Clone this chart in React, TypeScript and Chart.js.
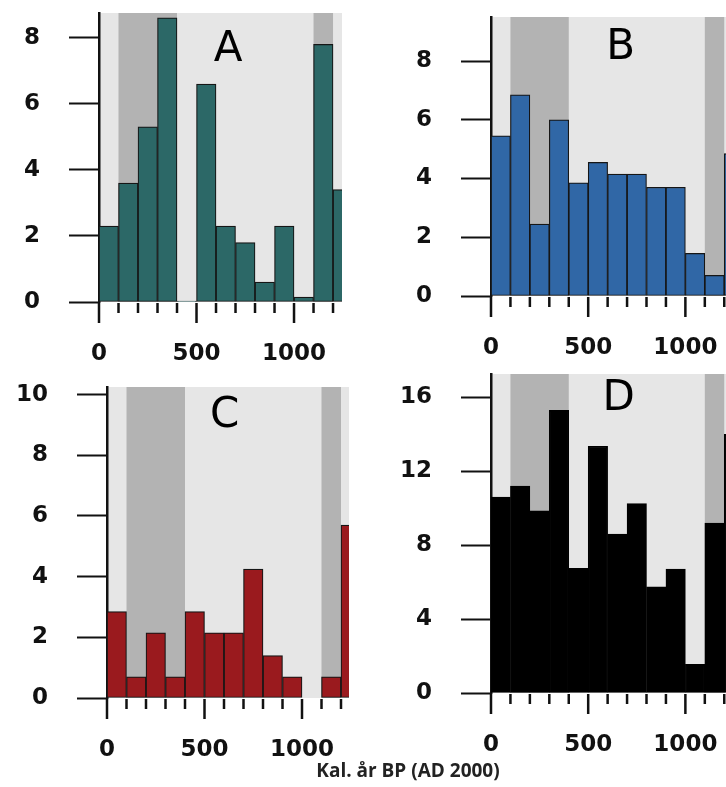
import React, { useEffect, useRef } from 'react';
import { Chart, registerables } from 'chart.js';

Chart.register(...registerables);

// ---------- data ----------
const binStarts = [0, 100, 200, 300, 400, 500, 600, 700, 800, 900, 1000, 1100, 1200];
const binWidth = 100;
const seriesA = [2.3, 3.6, 5.3, 8.6, 0.03, 6.6, 2.3, 1.8, 0.6, 2.3, 0.15, 7.8, 3.4];
const seriesB = [5.45, 6.85, 2.45, 6.0, 3.85, 4.55, 4.15, 4.15, 3.7, 3.7, 1.45, 0.7, 4.85];
const seriesC = [2.85, 0.7, 2.15, 0.7, 2.85, 2.15, 2.15, 4.25, 1.4, 0.7, 0, 0.7, 5.7];
const seriesD = [10.6, 11.2, 9.85, 15.3, 6.75, 13.35, 8.6, 10.25, 5.75, 6.7, 1.55, 9.2, 14.0];
const shadedBands = [[100, 400], [1100, 1200]];
const xTickValues = [0, 100, 200, 300, 400, 500, 600, 700, 800, 900, 1000, 1100, 1200];
const xLabelValues = [0, 500, 1000];
const yTicksA = [0, 2, 4, 6, 8];
const yTicksB = [0, 2, 4, 6, 8];
const yTicksC = [0, 2, 4, 6, 8, 10];
const yTicksD = [0, 4, 8, 12, 16];
const panelLabels = ['A', 'B', 'C', 'D'];
const axisTitle = 'Kal. år BP (AD 2000)';

// ---------- styling / layout ----------
const LIGHT = '#e6e6e6';
const DARK = '#b3b3b3';
const INK = '#111111';
const TICK_FONT = { family: '"DejaVu Sans", sans-serif', size: 23, weight: 'bold' as const };

type PanelSpec = {
  label: string;
  values: number[];
  yTicks: number[];
  color: string;
  yMax: number;
  xMax: number;
  box: { left: number; top: number; width: number; height: number };
  area: { left: number; right: number; top: number; bottom: number };
  titleX: number;
  titleDy: number;
};

const panels: PanelSpec[] = [
  {
    label: panelLabels[0], values: seriesA, yTicks: yTicksA, color: '#2c6867', yMax: 8.75, xMax: 1246,
    box: { left: 0, top: 0, width: 363, height: 372 },
    area: { left: 99, right: 342, top: 13, bottom: 302 },
    titleX: 662, titleDy: 37,
  },
  {
    label: panelLabels[1], values: seriesB, yTicks: yTicksB, color: '#3067a6', yMax: 9.5, xMax: 1209,
    box: { left: 363, top: 0, width: 363, height: 372 },
    area: { left: 491, right: 726, top: 17, bottom: 296 },
    titleX: 667, titleDy: 31,
  },
  {
    label: panelLabels[2], values: seriesC, yTicks: yTicksC, color: '#9a1a1e', yMax: 10.25, xMax: 1241,
    box: { left: 0, top: 372, width: 363, height: 415 },
    area: { left: 107, right: 349, top: 387, bottom: 698 },
    titleX: 604, titleDy: 29,
  },
  {
    label: panelLabels[3], values: seriesD, yTicks: yTicksD, color: '#000000', yMax: 17.26, xMax: 1209,
    box: { left: 363, top: 372, width: 363, height: 415 },
    area: { left: 491, right: 726, top: 374, bottom: 693 },
    titleX: 657, titleDy: 25,
  },
];

function makeDecor(p: PanelSpec) {
  return {
    id: 'panelDecor',
    beforeDraw(chart: any) {
      const { ctx, chartArea: a, scales } = chart;
      const x = scales.x;
      ctx.save();
      ctx.fillStyle = LIGHT;
      ctx.fillRect(a.left, a.top, a.right - a.left, a.bottom - a.top);
      ctx.fillStyle = DARK;
      for (const [s, e] of shadedBands) {
        const x1 = Math.max(a.left, x.getPixelForValue(s));
        const x2 = Math.min(a.right, x.getPixelForValue(e));
        if (x2 > x1) ctx.fillRect(x1, a.top, x2 - x1, a.bottom - a.top);
      }
      ctx.restore();
    },
    afterDraw(chart: any) {
      const { ctx, chartArea: a, scales } = chart;
      const x = scales.x;
      ctx.save();
      ctx.strokeStyle = INK;
      ctx.lineWidth = 2.5;
      for (const v of xTickValues) {
        if (v > x.max) continue;
        const px = x.getPixelForValue(v);
        const len = v % 500 === 0 ? 21 : 11;
        ctx.beginPath();
        ctx.moveTo(px, a.bottom + 1);
        ctx.lineTo(px, a.bottom + len);
        ctx.stroke();
      }
      ctx.fillStyle = '#000';
      ctx.font = '42px "DejaVu Sans", sans-serif';
      ctx.textAlign = 'center';
      ctx.textBaseline = 'middle';
      ctx.fillText(p.label, x.getPixelForValue(p.titleX), a.top + p.titleDy);
      ctx.restore();
    },
  };
}

function zeroPad(s: any) {
  s.paddingTop = 0;
  s.paddingBottom = 0;
  s.paddingLeft = 0;
  s.paddingRight = 0;
}

function Panel({ p }: { p: PanelSpec }) {
  const ref = useRef<HTMLCanvasElement | null>(null);
  useEffect(() => {
    const canvas = ref.current;
    if (!canvas) return;
    const yW = p.area.left - p.box.left;
    const padRight = p.box.left + p.box.width - p.area.right;
    const padTop = p.area.top - p.box.top;
    const xH = p.box.top + p.box.height - p.area.bottom;
    const chart = new Chart(canvas, {
      type: 'bar',
      data: {
        datasets: [
          {
            label: p.label,
            data: binStarts.map((s, i) => ({ x: s + binWidth / 2, y: p.values[i] })),
            backgroundColor: p.color,
            borderColor: p.color === '#000000' ? '#000000' : '#161616',
            borderWidth: 1.2,
            borderSkipped: false,
            barPercentage: 1,
            categoryPercentage: 1,
            clip: 0,
          } as any,
        ],
      },
      options: {
        responsive: false,
        animation: false,
        devicePixelRatio: 1,
        layout: { autoPadding: false, padding: { left: 0, top: padTop, right: padRight, bottom: 0 } },
        plugins: { legend: { display: false }, tooltip: { enabled: false }, title: { display: false } },
        scales: {
          x: {
            type: 'linear',
            min: 0,
            max: p.xMax,
            offset: false,
            grid: { display: false, drawTicks: false },
            border: { display: false },
            ticks: {
              autoSkip: false,
              maxRotation: 0,
              padding: 38,
              color: INK,
              font: TICK_FONT,
              callback: (v: any) => String(v),
            },
            afterBuildTicks: (s: any) => { s.ticks = xLabelValues.map((v) => ({ value: v })); },
            afterFit: (s: any) => { s.height = xH; zeroPad(s); },
          },
          y: {
            type: 'linear',
            min: 0,
            max: p.yMax,
            grid: { drawOnChartArea: false, drawTicks: true, tickLength: 30, tickColor: INK, tickWidth: 2 },
            border: { display: true, color: INK, width: 2.5 },
            ticks: { autoSkip: false, padding: 29, color: INK, font: TICK_FONT, callback: (v: any) => String(v) },
            afterBuildTicks: (s: any) => { s.ticks = p.yTicks.map((v) => ({ value: v })); },
            afterFit: (s: any) => { s.width = yW; zeroPad(s); },
          },
        },
      } as any,
      plugins: [makeDecor(p)],
    });
    return () => chart.destroy();
  }, [p]);
  return (
    <canvas
      ref={ref}
      width={p.box.width}
      height={p.box.height}
      style={{ position: 'absolute', left: p.box.left, top: p.box.top, width: p.box.width, height: p.box.height }}
    />
  );
}

export default function App() {
  return (
    <div style={{ position: 'absolute', left: 0, top: 0, width: 726, height: 787, background: '#ffffff', overflow: 'hidden' }}>
      {panels.map((p) => (
        <Panel key={p.label} p={p} />
      ))}
      <div
        style={{
          position: 'absolute', left: 258, top: 759, width: 300, textAlign: 'center',
          fontFamily: '"Open Sans", sans-serif', fontWeight: 700, fontSize: 19, lineHeight: '22px', color: '#222',
        }}
      >
        {axisTitle}
      </div>
    </div>
  );
}
